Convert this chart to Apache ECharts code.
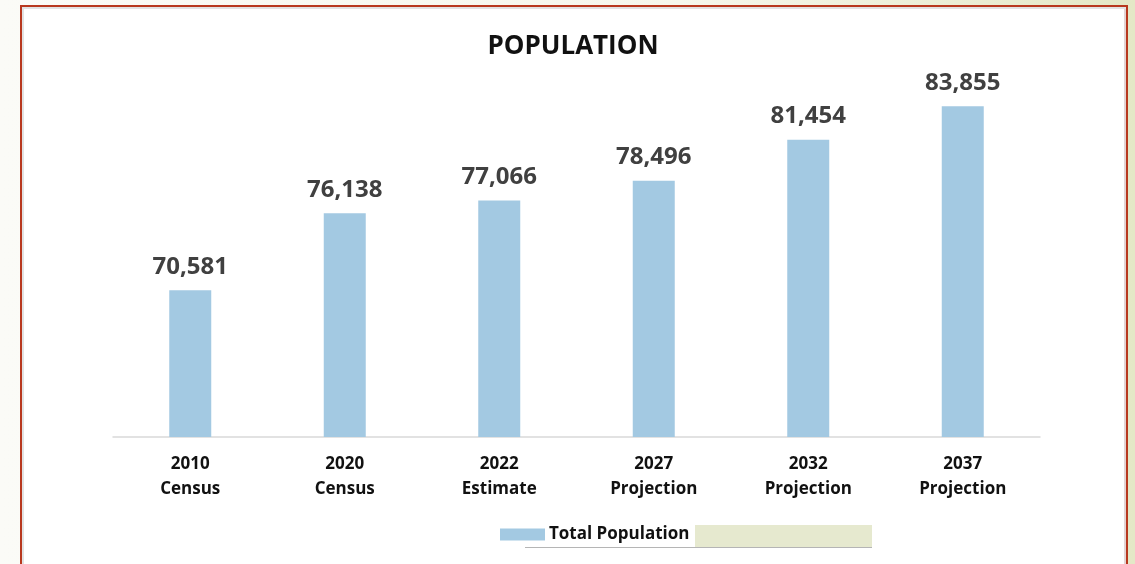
<!DOCTYPE html>
<html><head><meta charset="utf-8">
<script src="https://cdn.jsdelivr.net/npm/echarts@6/dist/echarts.min.js"></script>
<style>
html,body{margin:0;padding:0;width:1135px;height:564px;overflow:hidden;background:#fbfbf7;}
#bg{position:absolute;left:0;top:0;width:1135px;height:564px;background:linear-gradient(90deg,#fbfbf7 0%,#f6f7ec 60%,#e4e8c6 100%);}
#frame{position:absolute;left:20px;top:5px;width:1104px;height:570px;background:#fff;border:2px solid #b8381e;box-shadow:inset 2px 2px 0 #e2e2e2, inset -2px 0 0 #e2d4d4;}
#chart{position:absolute;left:0;top:0;width:1135px;height:564px;}
</style></head>
<body>
<div id="bg"></div><div id="frame"></div><div id="chart"></div>
<script>
const categories = ["2010\nCensus","2020\nCensus","2022\nEstimate","2027\nProjection","2032\nProjection","2037\nProjection"];
const totalPopulation = [70581,76138,77066,78496,81454,83855];
const chart = echarts.init(document.getElementById('chart'), null, {renderer:'canvas'});
const font = '"Open Sans", "Noto Sans", sans-serif';
chart.setOption({
  backgroundColor:'transparent',
  animation:false,
  title:{text:'POPULATION',left:568,textAlign:'center',top:29,textStyle:{fontFamily:font,fontSize:26,fontWeight:'bold',color:'#111'}},
  grid:{left:113,right:95,top:90.5,bottom:127},
  legend:{left:500,top:526,padding:0,itemWidth:45,itemHeight:12,itemGap:4,icon:'rect',
    textStyle:{fontFamily:font,fontSize:17,fontWeight:'bold',color:'#111',padding:[0,0,0,-1]},
    data:['Total Population']},
  graphic:[
    {type:'rect',left:695,top:525,z:-1,shape:{width:177,height:22},style:{fill:'#e6e9cf'}},
    {type:'line',z:-1,shape:{x1:525,y1:547.5,x2:872,y2:547.5},style:{stroke:'#b5b5b5',lineWidth:1}}
  ],
  xAxis:{type:'category',data:categories,
    axisLine:{lineStyle:{color:'#d9d9d9',width:1.5}},axisTick:{show:false},
    axisLabel:{fontFamily:font,fontSize:17,fontWeight:'bold',color:'#111',lineHeight:25,margin:15}},
  yAxis:{type:'value',min:60000,max:85000,show:false,splitLine:{show:false}},
  series:[{name:'Total Population',type:'bar',data:totalPopulation,barWidth:42,
    itemStyle:{color:'#a3c9e2'},
    label:{show:true,position:'top',distance:11,fontFamily:font,fontSize:24,fontWeight:'bold',color:'#404040',
      formatter:p=>p.value.toLocaleString('en-US')}}]
});
</script>
</body></html>
